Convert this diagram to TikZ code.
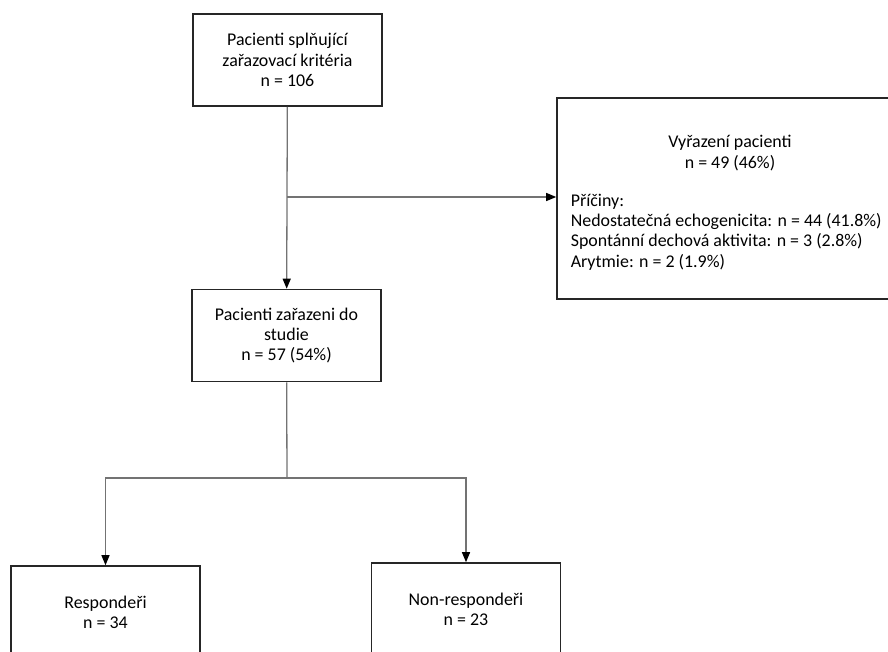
\documentclass[tikz,border=0pt]{standalone}
\usepackage{fontspec}
\setmainfont{Carlito}
\usepackage{tikz}
\usetikzlibrary{arrows, arrows.meta}
\usetikzlibrary{positioning}
\usetikzlibrary{calc}

\begin{document}
\begin{tikzpicture}[x=1pt, y=-1pt,
		every node/.style={draw=black!85, line width=1.6pt, rectangle, minimum width=189pt, minimum height=92pt, align=center, text=black, font=\fontsize{17.9}{20.3}\selectfont},
		plain/.style={draw=none, minimum width=0pt, minimum height=0pt, inner sep=0pt},
		link/.style={draw=black!55, line width=1.3pt},
		tip/.style={-{Triangle[length=10pt, width=8pt, color=black]}}]
			\clip (0,0) rectangle (888,652);
			\fill[white] (0,0) rectangle (888,652);
			\node(top) at (287.5,60){Pacienti splňující\\zařazovací kritéria\\n = 106};
			\node(middle) at (286.5,335.5){Pacienti zařazeni do\\studie\\n = 57 (54\%)};
			\node(excluded)[minimum width=346pt, minimum height=201pt] at (730,198.5){};
			\node(exTitle)[plain] at (730,153){Vyřazení pacienti\\n = 49 (46\%)};
			\node(exReasons)[plain, anchor=west, align=left] at (570,232){Příčiny:\\Nedostatečná echogenicita: n = 44 (41.8\%)\\Spontánní dechová aktivita: n = 3 (2.8\%)\\Arytmie: n = 2 (1.9\%)};
			\foreach \x/\y/\name/\txt in {105.5/612/resp/{Respondeři\\n = 34}, 466/609/nonresp/{Non-respondeři\\n = 23}}
			{
				\node(\name) at (\x,\y){\txt};
			}
			\coordinate(split) at (287,197);
			\coordinate(branch) at (287,478);
			\draw[link, tip] (top) -- (middle);
			\draw[link, tip] (split) -- (split -| excluded.west);
			\draw[link] (middle) -- (branch);
			\foreach \name in {resp, nonresp}{
				\draw[link, tip] (branch) -| (\name.north);
			}
		\end{tikzpicture}
\end{document}
